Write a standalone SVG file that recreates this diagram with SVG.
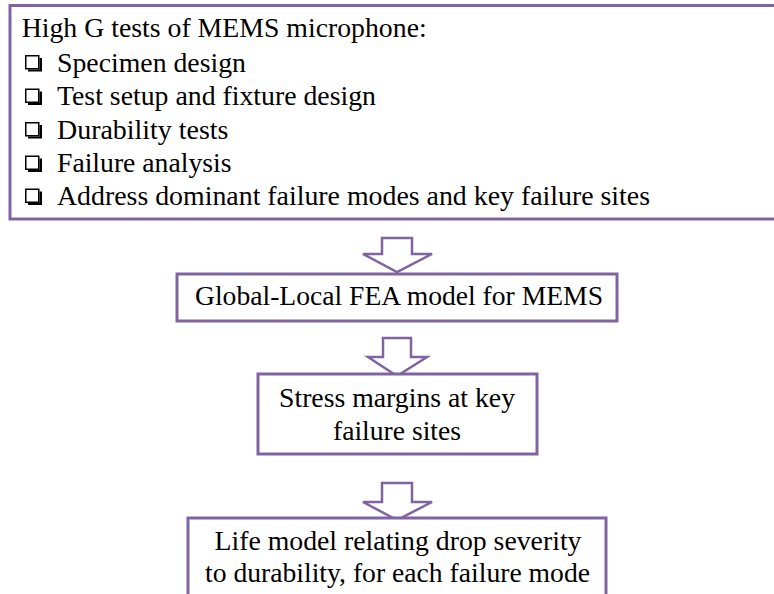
<svg xmlns="http://www.w3.org/2000/svg" width="774" height="594" viewBox="0 0 774 594">
<style>
.box{fill:#ffffff;stroke:#8064A2;stroke-width:3}
.arr{fill:#ffffff;stroke:#8064A2;stroke-width:2.5;stroke-linejoin:miter}
text{font-family:'Liberation Serif','Times New Roman',serif;font-size:27.5px;fill:#000000}
.c{text-anchor:middle}
</style>
<defs>
<g id="cb">
<rect x="0.75" y="0.75" width="13" height="13" fill="#ffffff" stroke="#000000" stroke-width="1.5"/>
<path d="M14.5 3 H17 V16.5 H3 V14.5 H14.5 Z" fill="#000000"/>
</g>
</defs>
<rect width="774" height="594" fill="#ffffff"/>
<g id="connectors">
<path class="arr" d="M382 238 H412 V254 H432 L397 272 L363 254 H382 Z"/>
<path class="arr" d="M383 338 H411 V357 H427 L397 376 L368 357 H383 Z"/>
<path class="arr" d="M382 483 H412 V502 H432 L397 520 L363 502 H382 Z"/>
</g>
<g id="node-tests">
<rect class="box" x="10" y="5.5" width="780" height="213.5"/>
<text x="21.7" y="37" textLength="405" lengthAdjust="spacingAndGlyphs">High G tests of MEMS microphone:</text>
<use href="#cb" x="25" y="55"/>
<text x="57" y="71.5" textLength="189" lengthAdjust="spacingAndGlyphs">Specimen design</text>
<use href="#cb" x="25" y="88.5"/>
<text x="57" y="105" textLength="319" lengthAdjust="spacingAndGlyphs">Test setup and fixture design</text>
<use href="#cb" x="25" y="122"/>
<text x="57" y="138.5" textLength="171.5" lengthAdjust="spacingAndGlyphs">Durability tests</text>
<use href="#cb" x="25" y="155.5"/>
<text x="57" y="172" textLength="174.5" lengthAdjust="spacingAndGlyphs">Failure analysis</text>
<use href="#cb" x="25" y="188.5"/>
<text x="57" y="205" textLength="593" lengthAdjust="spacingAndGlyphs">Address dominant failure modes and key failure sites</text>
</g>
<g id="node-fea">
<rect class="box" x="177" y="274" width="440" height="47"/>
<text class="c" x="399" y="305" textLength="408" lengthAdjust="spacingAndGlyphs">Global-Local FEA model for MEMS</text>
</g>
<g id="node-stress">
<rect class="box" x="258" y="374" width="279" height="80"/>
<text class="c" x="397" y="406.5" textLength="236" lengthAdjust="spacingAndGlyphs">Stress margins at key</text>
<text class="c" x="397" y="440" textLength="128" lengthAdjust="spacingAndGlyphs">failure sites</text>
</g>
<g id="node-life">
<rect class="box" x="188" y="518" width="418" height="90"/>
<text class="c" x="398" y="550" textLength="367" lengthAdjust="spacingAndGlyphs">Life model relating drop severity</text>
<text class="c" x="397.5" y="581.5" textLength="385" lengthAdjust="spacingAndGlyphs">to durability, for each failure mode</text>
</g>
</svg>
